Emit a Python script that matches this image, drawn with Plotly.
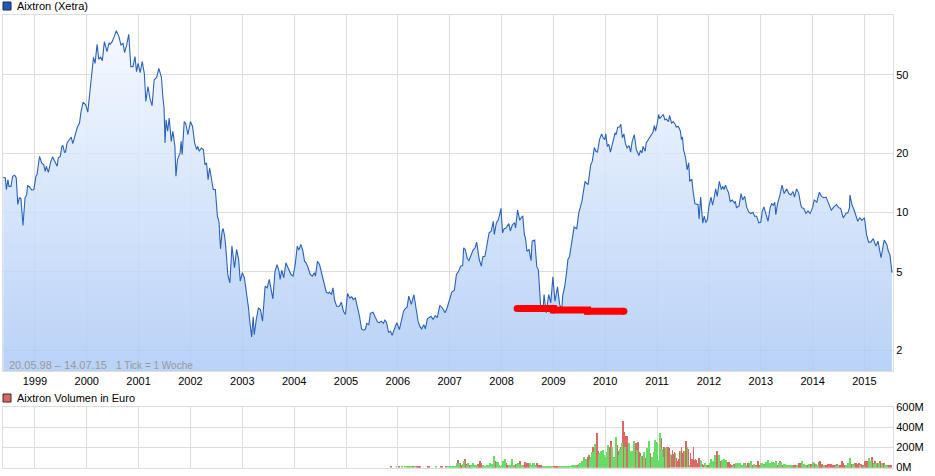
import plotly.graph_objects as go

W, H = 935, 476
FONT = "Liberation Sans"

# weekly closes, split by stretch of the picture
years_a = [
    1998.39, 1998.43, 1998.45, 1998.48, 1998.50, 1998.54, 1998.57, 1998.61, 1998.64, 1998.67,
    1998.70, 1998.73, 1998.77, 1998.81, 1998.84, 1998.86, 1998.90, 1998.94, 1998.98, 1999.02,
    1999.04, 1999.09, 1999.13, 1999.17, 1999.20, 1999.22, 1999.26, 1999.30, 1999.34, 1999.37,
    1999.43, 1999.45, 1999.49, 1999.52, 1999.54, 1999.57, 1999.59, 1999.62, 1999.67, 1999.70,
    1999.73, 1999.79, 1999.82, 1999.86, 1999.89, 1999.93, 1999.98, 2000.02, 2000.05, 2000.11,
    2000.13, 2000.16, 2000.20, 2000.23, 2000.27, 2000.30, 2000.34, 2000.39, 2000.43, 2000.45,
    2000.49, 2000.53, 2000.57, 2000.62, 2000.66, 2000.70, 2000.73, 2000.77, 2000.81, 2000.85,
    2000.89, 2000.93, 2000.96, 2000.99, 2001.03, 2001.07, 2001.11, 2001.14, 2001.18, 2001.22,
    2001.26, 2001.30, 2001.35, 2001.39, 2001.44, 2001.47, 2001.49, 2001.51, 2001.53, 2001.56,
    2001.59, 2001.63, 2001.66, 2001.70, 2001.72, 2001.75, 2001.80, 2001.82, 2001.84, 2001.88,
    2001.91, 2001.95, 2002.00, 2002.04, 2002.08, 2002.12, 2002.14, 2002.17, 2002.21, 2002.25,
    2002.28, 2002.31, 2002.34, 2002.37, 2002.40, 2002.44, 2002.48, 2002.52, 2002.55,
]
prices_a = [
    15.1, 15.0, 13.1, 14.7, 13.6, 13.6, 15.3, 15.5, 15.0, 11.0,
    11.9, 11.8, 8.6, 11.9, 12.3, 13.7, 13.5, 13.0, 13.1, 15.3,
    15.6, 19.3, 17.9, 17.5, 16.2, 17.2, 16.0, 17.9, 19.2, 18.6,
    17.2, 19.0, 19.3, 21.7, 21.9, 20.3, 20.3, 22.6, 23.7, 24.2,
    22.4, 25.4, 27.2, 28.5, 32.6, 36.4, 35.3, 32.4, 38.1, 54.0,
    61.5, 57.3, 71.5, 60.1, 61.5, 59.1, 73.8, 65.7, 72.8, 71.5,
    73.8, 78.3, 84.0, 78.3, 71.0, 72.4, 64.9, 71.0, 80.4, 55.1,
    55.1, 62.0, 52.0, 57.3, 51.4, 58.4, 51.0, 36.7, 43.7, 37.9,
    34.9, 47.2, 48.7, 54.0, 48.7, 38.1, 34.3, 22.6, 29.6, 25.9,
    30.2, 23.0, 25.9, 21.7, 15.3, 18.6, 20.1, 23.0, 19.7, 29.0,
    28.3, 24.9, 29.0, 27.4, 22.6, 20.9, 21.7, 20.5, 21.3, 20.9,
    17.5, 17.9, 14.7, 16.9, 15.3, 13.1, 13.1, 9.59, 9.0,
]

years_b = [
    2002.58, 2002.61, 2002.63, 2002.66, 2002.68, 2002.72, 2002.76, 2002.80, 2002.85, 2002.89,
    2002.93, 2002.96, 2003.00, 2003.04, 2003.08, 2003.12, 2003.14, 2003.18, 2003.21, 2003.23,
    2003.27, 2003.31, 2003.35, 2003.39, 2003.44, 2003.48, 2003.52, 2003.55, 2003.59, 2003.63,
    2003.67, 2003.71, 2003.73, 2003.76, 2003.80, 2003.84, 2003.89, 2003.94, 2003.98, 2004.02,
    2004.06, 2004.09, 2004.13, 2004.17, 2004.20, 2004.23, 2004.27, 2004.31, 2004.35, 2004.39,
    2004.41, 2004.45,
]
prices_b = [
    6.55, 8.05, 8.3, 7.59, 6.76, 4.85, 4.40, 6.76, 5.25, 6.50,
    5.78, 4.49, 4.95, 4.67, 4.0, 3.28, 2.87, 2.34, 2.96, 2.40,
    2.87, 3.28, 3.22, 2.81, 4.23, 4.15, 4.58, 4.15, 3.65, 5.02,
    5.45, 5.02, 4.58, 5.10, 4.67, 5.56, 5.14, 4.85, 4.76, 5.45,
    6.76, 6.45, 6.89, 6.37, 5.67, 5.56, 5.25, 4.85, 4.76, 4.95,
    4.76, 5.67,
]

years_c = [
    2004.49, 2004.53, 2004.57, 2004.62, 2004.66, 2004.68, 2004.72, 2004.75, 2004.78, 2004.82,
    2004.87, 2004.91, 2004.95, 2004.99, 2005.03, 2005.07, 2005.11, 2005.14, 2005.18, 2005.22,
    2005.26, 2005.30, 2005.34, 2005.37, 2005.40, 2005.44, 2005.47, 2005.52, 2005.55, 2005.61,
    2005.64, 2005.68, 2005.72, 2005.75, 2005.78, 2005.82, 2005.86, 2005.89, 2005.93, 2005.98,
    2006.03, 2006.07, 2006.11, 2006.14, 2006.18, 2006.21, 2006.26, 2006.31, 2006.35, 2006.39,
    2006.43, 2006.46, 2006.50, 2006.53, 2006.57, 2006.61, 2006.64, 2006.68, 2006.72, 2006.76,
    2006.81, 2006.86, 2006.91, 2006.95, 2007.00, 2007.04, 2007.09, 2007.13, 2007.17, 2007.21,
    2007.25, 2007.27, 2007.30, 2007.34, 2007.37, 2007.41, 2007.45, 2007.49, 2007.52, 2007.57,
    2007.61, 2007.64, 2007.68, 2007.72, 2007.76, 2007.80, 2007.84, 2007.86, 2007.90, 2007.94,
    2007.99, 2008.02, 2008.05, 2008.09, 2008.14, 2008.17, 2008.21, 2008.25, 2008.27, 2008.31,
    2008.35, 2008.39, 2008.41, 2008.44, 2008.46, 2008.49, 2008.53, 2008.57, 2008.59, 2008.64,
    2008.68, 2008.71, 2008.73, 2008.76, 2008.80, 2008.82, 2008.86, 2008.91, 2008.95, 2008.99,
    2009.03, 2009.08, 2009.12, 2009.16, 2009.18, 2009.22, 2009.26, 2009.28, 2009.31, 2009.34,
    2009.40, 2009.45, 2009.49, 2009.55, 2009.61,
]
prices_c = [
    5.45, 4.95, 4.40, 3.95, 3.89, 3.95, 3.84, 4.15, 3.59, 3.35,
    3.35, 3.51, 3.16, 3.04, 3.89, 3.69, 3.74, 3.62, 3.69, 3.35,
    2.98, 2.57, 2.53, 2.55, 2.74, 2.70, 3.08, 3.12, 2.98, 2.78,
    2.76, 2.81, 2.74, 2.85, 2.78, 2.47, 2.50, 2.38, 2.55, 2.76,
    2.55, 2.81, 3.16, 3.25, 3.32, 3.77, 3.42, 3.83, 3.22, 2.81,
    2.63, 2.57, 2.70, 2.57, 2.89, 2.93, 2.98, 2.87, 3.0, 2.93,
    3.38, 3.28, 3.10, 3.28, 3.69, 3.95, 4.04, 4.85, 5.02, 5.35,
    5.38, 6.63, 6.50, 5.83, 5.70, 6.01, 6.45, 6.63, 7.08, 5.78,
    5.35, 5.97, 6.01, 6.89, 7.89, 8.05, 9.04, 7.74, 8.87, 9.22,
    10.5, 7.89, 8.28, 8.37, 8.80, 8.05, 8.70, 8.87, 8.37, 10.3,
    9.15, 9.51, 9.59, 7.74, 7.45, 6.37, 6.50, 5.70, 7.16, 7.25,
    5.30, 5.14, 4.23, 3.16, 3.22, 3.84, 3.10, 3.84, 3.48, 4.72,
    3.55, 4.20, 3.42, 3.22, 3.80, 4.23, 5.14, 5.78, 5.97, 6.63,
    8.45, 8.28, 9.97, 11.4, 14.4,
]

years_d = [
    2009.64, 2009.67, 2009.72, 2009.75, 2009.79, 2009.82, 2009.85, 2009.89, 2009.93, 2009.96,
    2009.99, 2010.01, 2010.04, 2010.07, 2010.10, 2010.15, 2010.19, 2010.21, 2010.24, 2010.28,
    2010.30, 2010.33, 2010.36, 2010.39, 2010.42, 2010.46, 2010.49, 2010.52,
    2010.56, 2010.60, 2010.65, 2010.68, 2010.71, 2010.73, 2010.77, 2010.79, 2010.85, 2010.88,
    2010.92, 2010.95, 2010.97, 2011.00, 2011.03, 2011.05, 2011.09, 2011.12, 2011.15, 2011.18,
    2011.22, 2011.24, 2011.28, 2011.31, 2011.35, 2011.37, 2011.41, 2011.45, 2011.47, 2011.49,
    2011.51, 2011.55, 2011.58, 2011.61, 2011.63, 2011.67, 2011.69, 2011.73, 2011.79, 2011.81,
    2011.84, 2011.86, 2011.88, 2011.91, 2011.94, 2011.97, 2012.00, 2012.04, 2012.07, 2012.10,
]
prices_d = [
    14.1, 13.9, 17.5, 18.2, 21.4, 20.5, 20.3, 23.5, 25.1, 24.0,
    23.5, 25.1, 21.7, 22.2, 20.3, 23.0, 25.4, 24.9, 27.1, 27.3,
    28.1, 24.0, 25.1, 22.4, 21.3, 21.9, 20.3, 23.0,
    24.9, 20.9, 19.5, 20.7, 20.1, 21.7, 20.5, 22.6, 24.0, 24.9,
    25.6, 27.7, 25.9, 28.1, 31.5, 30.0, 30.8, 31.5, 29.6, 29.8,
    29.0, 31.2, 28.5, 29.0, 28.1, 27.2, 27.4, 25.9, 23.5, 24.2,
    20.9, 19.0, 16.5, 17.9, 14.4, 14.8, 13.1, 11.1, 11.0, 9.3,
    12.0, 9.97, 8.84, 9.59, 8.9, 9.22, 10.8, 12.0, 10.9, 11.9,
]

years_e = [
    2012.13, 2012.16, 2012.20, 2012.24, 2012.27, 2012.29, 2012.32, 2012.35, 2012.38, 2012.41,
    2012.45, 2012.49, 2012.51, 2012.53, 2012.58, 2012.62, 2012.65, 2012.69, 2012.73, 2012.77,
    2012.81, 2012.85, 2012.88, 2012.92, 2012.96, 2013.00, 2013.03, 2013.06, 2013.10, 2013.14,
    2013.18, 2013.21, 2013.24, 2013.27, 2013.29, 2013.32, 2013.37, 2013.41, 2013.45, 2013.50,
    2013.54, 2013.58, 2013.62, 2013.65, 2013.69, 2013.73, 2013.77, 2013.79, 2013.83, 2013.87,
    2013.91, 2013.95, 2014.00, 2014.03, 2014.08, 2014.13, 2014.17, 2014.21, 2014.26, 2014.31,
    2014.36, 2014.41, 2014.46, 2014.50, 2014.54, 2014.59, 2014.64, 2014.68, 2014.71, 2014.72,
    2014.76, 2014.79, 2014.83, 2014.87, 2014.91, 2014.95, 2015.00, 2015.04, 2015.08, 2015.12,
    2015.17, 2015.22, 2015.26, 2015.32, 2015.38, 2015.43, 2015.46, 2015.49, 2015.53,
]
prices_e = [
    13.2, 12.1, 14.4, 13.1, 13.6, 13.1, 13.8, 13.1, 12.6, 11.4,
    11.6, 11.2, 11.4, 10.6, 10.8, 12.5, 11.6, 12.1, 10.6, 10.05,
    9.9, 10.05, 9.59, 9.59, 8.87, 8.94, 10.2, 10.7, 9.77, 9.04,
    10.6, 11.1, 10.9, 11.3, 9.77, 11.0, 12.3, 13.8, 12.5, 13.2,
    12.5, 12.3, 12.8, 12.0, 13.2, 12.6, 11.0, 10.6, 10.5, 9.9,
    10.2, 9.9, 10.6, 11.6, 11.3, 12.7, 12.1, 11.9, 12.0, 11.0,
    10.3, 10.7, 11.0, 10.6, 10.5, 9.4, 9.9, 9.97, 10.6, 12.3,
    10.9, 10.5, 9.67, 9.04, 9.4, 9.15, 9.4, 7.74, 7.08, 7.08,
    7.38, 6.76, 7.16, 5.9, 7.25, 6.89, 6.37, 6.13, 4.96,
]

# the red felt-pen stroke somebody drew across the chart
stroke_years = [2008.30, 2009.00, 2009.66, 2010.36]
stroke_prices = [3.26, 3.20, 3.16, 3.16]

# weekly volume in million euro, one entry per bar: positive green, negative red
vol_2005 = [-10, 0, 0, 0, 0, 0, 10, 0]
vol_2006 = [0, -10, 0, 0, 10, 0, 0, 13, 0, 10, 10, 10, 10, 10, 0, -10, 0, 17, 0, -10, -10, -10, -10,
            0, 0, 0, 0, 0, 0, 0, -10, -10, 0, 0, 0, 0, 0, 0, 10, 0, 0, 0, 0, -10, -10, 0, 0, 0, -10, 0, 10, 0]
vol_2007 = [10, 10, 10, 10, 10, 10, 10, 40, -73, 40, -40, -20, -10, 30, 60, -83, -33, 20, 40, -20, -20,
            20, 27, 40, 20, 20, 20, 20, -33, -33, -60, -40, -20, 20, 13, 10, 13, 27, 27, 27, 40, 33, 33,
            -20, 110, -67, -47, 50, 50, 27, 13, 10]
vol_2008 = [20, 60, -47, 80, -40, -27, -20, 27, 27, -27, 80, -27, 27, -27, -33, 33, 47, 33, -67, 27, 20, 13,
            -20, -50, -33, -40, -47, -20, 40, 27, 27, 47, 47, 20, 10, -40, -27, -13, -20, -20, -10,
            10, -10, 10, 10, -10, 10, -10, 10, 10, 10]
vol_2009 = [-10, -10, -10, -10, -10, 10, -10, 10, 10, -10, 10, 10, 10, 10, 10, 10, 13, 13, 27, 27, 27, 27, 27,
            -20, -20, 33, 47, 47, 67, 40, 100, 67, 83, -67, -100, -120, 80, 107, 150, -200, 150, 233, -170,
            -340, -160, 130, 140, 160, 160, 170, 120, -100]
vol_2010 = [100, 150, 227, -200, -140, -267, 200, 107, -100, 93, 300, -220, -160, 127, 180, -200, 240, -460,
            -353, 200, -313, -313, -153, 240, -140, 160, 160, 110, 260, -200, -247, 170, -253, -153, -140,
            113, -113, -113, 153, -93, -80, 193, -147, 260, -140, -87, 107, 107, 153, 273, -253, 240]
vol_2011 = [73, 67, 340, -293, 183, 100, -200, -160, 193, -207, -200, -193, -120, 133, -127, -173, -133, -153,
            140, -93, -67, -87, -167, 167, -207, -147, -160, 167, -260, -260, 200, -180, 27, -140, -87, -80,
            -200, -73, -80, -73, -47, -93, -93, 73, 60, -33, -27, 40, 40, 27, -27]
vol_2012 = [-20, 47, 80, 67, 33, 67, 120, -93, -160, -60, 127, -60, -53, 73, -40, 80, -60, 73, -53, -47, -53,
            -33, -27, -27, 20, -33, -20, 40, -27, 47, -33, 47, -20, 27, -13, 40, -40, 27, -20, -47, -47, 40,
            67, -20, -27, 33, -27, 13, -20, -60, -20, -20]
vol_2013 = [40, 40, 33, 27, -33, 53, 40, 73, -47, 40, -33, 53, -53, 40, -27, 67, -20, -27, 47, -60, 53, -27, -13,
            33, 33, -20, 27, 20, -27, 27, -20, 27, -20, -27, -13, -20, 20, -20, -40, -40, -33, 60, -27, 33,
            -20, 27, -27, -20, 33, -20, -33, 13]
vol_2014 = [53, -40, -27, 33, -20, 27, -53, -67, -33, -33, -27, 27, -27, -27, -20, -33, -20, -33, -33, -13, -27,
            -20, -20, 13, -33, 27, -20, -20, -27, -60, -40, -20, -13, 20, -27, 47, -27, 93, -33, -27, 33, 27,
            -47, -40, -33, -27, -40, 27, -33, -20, -20, 13]
vol_2015 = [-60, -67, -67, -67, 93, -47, 60, -100, -40, 33, -60, 47, -40, -27, 40, -60, -47, 40, -47, -40, 20,
            -13, 27, -27, -27, -27, -27]

year_ticks = list(range(1999, 2016))
price_ticks = [2, 5, 10, 20, 50]
volume_ticks = [0, 200, 400, 600]
volume_labels = ["0M", "200M", "400M", "600M"]

PRICE_FLOOR = 1.57
WEEK = 1 / 52


def px_x(x):
    return x / W


def px_y(y):
    return 1 - y / H


years = years_a + years_b + years_c + years_d + years_e
prices = prices_a + prices_b + prices_c + prices_d + prices_e

volume_chunks = [
    (2005.85, vol_2005), (2006, vol_2006), (2007, vol_2007), (2008, vol_2008), (2009, vol_2009),
    (2010, vol_2010), (2011, vol_2011), (2012, vol_2012), (2013, vol_2013), (2014, vol_2014), (2015, vol_2015),
]
green_x, green_y, red_x, red_y = [], [], [], []
for start, chunk in volume_chunks:
    for i, v in enumerate(chunk):
        if v > 0:
            green_x.append(start + i * WEEK)
            green_y.append(v)
        elif v < 0:
            red_x.append(start + i * WEEK)
            red_y.append(-v)

fig = go.Figure()

# invisible floor so the gradient only spans the visible price area
fig.add_trace(go.Scatter(x=years, y=[PRICE_FLOOR] * len(years), mode="lines", line=dict(width=0),
                         hoverinfo="skip", showlegend=False))
fig.add_trace(go.Scatter(x=years, y=prices, mode="lines", fill="tonexty",
                         line=dict(color="#2a62bb", width=1.1),
                         fillgradient=dict(type="vertical",
                                           colorscale=[[0, "rgba(172,202,245,0.85)"],
                                                       [1, "rgba(244,248,255,0.85)"]]),
                         showlegend=False))
# round ends for the stroke come from the two end markers
fig.add_trace(go.Scatter(x=stroke_years, y=stroke_prices, mode="lines+markers",
                         line=dict(color="#ff0000", width=7, shape="hv"),
                         marker=dict(color="#ff0000", size=7), showlegend=False))

# red first, so neighbouring green bars stay visible
fig.add_trace(go.Bar(x=red_x, y=red_y, width=WEEK * 0.9, marker=dict(color="#dd6666", line_width=0),
                     xaxis="x2", yaxis="y2", showlegend=False))
fig.add_trace(go.Bar(x=green_x, y=green_y, width=WEEK * 0.9, marker=dict(color="#66dd66", line_width=0),
                     xaxis="x2", yaxis="y2", showlegend=False))

frame = dict(showgrid=True, gridcolor="#dddddd", gridwidth=1, showline=True, linecolor="#dddddd",
             linewidth=1, mirror=True, zeroline=False)
x_range = [1998.375, 2015.55]
x_domain = [px_x(2.5), px_x(893)]

fig.update_layout(
    width=W, height=H,
    margin=dict(l=0, r=0, t=0, b=0, autoexpand=False),
    paper_bgcolor="white", plot_bgcolor="white",
    barmode="overlay", bargap=0,
    font=dict(family=FONT, size=11, color="#000000"),
    xaxis=dict(domain=x_domain, range=x_range, tickvals=year_ticks, ticks="", anchor="y", **frame),
    yaxis=dict(domain=[px_y(371), px_y(15)], type="log", range=[0.1959, 2.0035], side="right",
               tickvals=price_ticks, ticktext=[str(p) for p in price_ticks], ticks="", anchor="x", **frame),
    xaxis2=dict(domain=x_domain, range=x_range, tickvals=year_ticks, showticklabels=False, ticks="",
                anchor="y2", **frame),
    yaxis2=dict(domain=[px_y(467.5), px_y(407)], range=[0, 600], side="right", tickvals=volume_ticks,
                ticktext=volume_labels, ticks="", anchor="x2", **frame),
    annotations=[
        dict(x=px_x(15), y=px_y(6), xref="paper", yref="paper", xanchor="left", yanchor="middle",
             text="Aixtron (Xetra)", showarrow=False, font=dict(size=11)),
        dict(x=px_x(15), y=px_y(398), xref="paper", yref="paper", xanchor="left", yanchor="middle",
             text="Aixtron Volumen in Euro", showarrow=False, font=dict(size=11)),
        dict(x=px_x(7), y=px_y(365), xref="paper", yref="paper", xanchor="left", yanchor="middle",
             text="20.05.98 \u2013 14.07.15", showarrow=False, font=dict(size=11, color="#999999")),
        dict(x=px_x(114), y=px_y(365), xref="paper", yref="paper", xanchor="left", yanchor="middle",
             text="1 Tick = 1 Woche", showarrow=False, font=dict(size=10, color="#999999")),
    ],
    shapes=[
        dict(type="rect", xref="paper", yref="paper", x0=px_x(3), x1=px_x(11), y0=px_y(10), y1=px_y(2),
             fillcolor="#1f5bb5", line=dict(color="#1a2a4a", width=1)),
        dict(type="rect", xref="paper", yref="paper", x0=px_x(3), x1=px_x(11), y0=px_y(402), y1=px_y(394),
             fillcolor="#dd6666", line=dict(color="#4a2020", width=1)),
    ],
)

fig.write_html("out.html", config={"displayModeBar": False}, post_script="document.body.style.margin='0';")
